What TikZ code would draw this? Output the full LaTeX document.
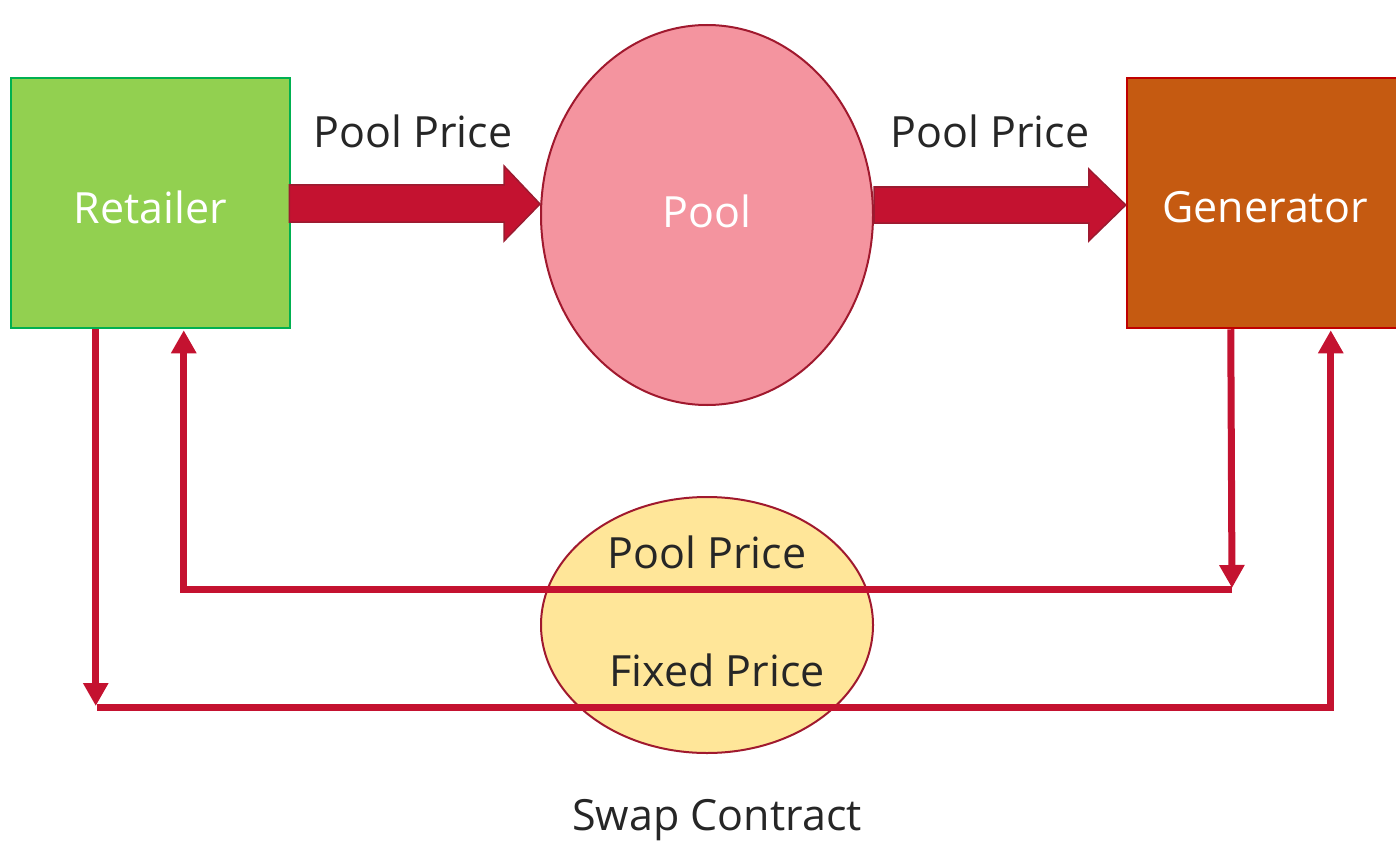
\documentclass[tikz,border=0pt]{standalone}
\usepackage{fontspec}
\setmainfont{Open Sans}
\usetikzlibrary{calc,shapes.geometric,arrows.meta}
\definecolor{linered}{HTML}{C41230}
\definecolor{arrowborder}{HTML}{9B1B30}
\definecolor{pinkfill}{HTML}{F4949F}
\definecolor{ellborder}{HTML}{A0192E}
\definecolor{yellowfill}{HTML}{FFE699}
\definecolor{greenfill}{HTML}{92D050}
\definecolor{greenborder}{HTML}{00B050}
\definecolor{orangefill}{HTML}{C55A11}
\definecolor{orangeborder}{HTML}{C00000}
\definecolor{textdark}{HTML}{262626}
\tikzset{
  boxnode/.style={rectangle, line width=2.5pt, inner sep=0pt},
  ellnode/.style={ellipse, line width=2pt, draw=ellborder, inner sep=0pt},
  whitelbl/.style={text=white, font=\fontsize{43}{50}\selectfont, inner sep=0pt},
  lbl/.style={text=textdark, font=\fontsize{43}{50}\selectfont, inner sep=0pt},
  blockarrow/.style={fill=linered, draw=arrowborder, line width=1.5pt, line join=miter},
  thin/.style={draw=linered, line width=7pt},
  thinarrow/.style={thin, -{Triangle[length=23pt,width=24pt]}},
}
\begin{document}
\begin{tikzpicture}[x=1pt,y=-1pt]
\useasboundingbox (0,0) rectangle (1396,845);
% boxes
\node[boxnode, fill=greenfill, draw=greenborder, minimum width=279pt, minimum height=250pt] (retailer) at (150.5,203) {};
\node[whitelbl] (retailerlbl) at ($(retailer.center)+(0,4)$) {Retailer};
\node[boxnode, fill=orangefill, draw=orangeborder, minimum width=272pt, minimum height=250pt] (generator) at (1263,203) {};
\node[whitelbl] (generatorlbl) at (1265,207) {Generator};
% ellipses
\node[ellnode, fill=pinkfill, minimum width=332pt, minimum height=380pt] (pool) at (707,215) {};
\node[whitelbl] (poollbl) at (707,211) {Pool};
\node[ellnode, fill=yellowfill, minimum width=332pt, minimum height=256pt] (swap) at (707,625) {};
% labels
\node[lbl] (pp1) at (413,131) {Pool Price};
\node[lbl] (pp2) at (990,131) {Pool Price};
\node[lbl] (pp3) at (707,552) {Pool Price};
\node[lbl] (fp) at (717,670) {Fixed Price};
\node[lbl] (sc) at (717,820) {Swap Contract};
% block arrows
\coordinate (S1) at (retailer.east);
\coordinate (T1) at (pool.west |- retailer.east);
\draw[blockarrow] ($(S1)+(-2,-18)$) -- ($(T1)+(-36,-18)$) -- ($(T1)+(-36,-37)$) -- ($(T1)+(0,1)$) -- ($(T1)+(-36,38)$) -- ($(T1)+(-36,19)$) -- ($(S1)+(-2,19)$) -- cycle;
\coordinate (S2) at ($(pool.east |- generator.west)+(0,2)$);
\coordinate (T2) at ($(generator.west)+(0,2)$);
\draw[blockarrow] ($(S2)+(0,-18)$) -- ($(T2)+(-37,-18)$) -- ($(T2)+(-37,-36)$) -- (T2) -- ($(T2)+(-37,36)$) -- ($(T2)+(-37,18)$) -- ($(S2)+(0,18)$) -- cycle;
% thin connectors
\coordinate (rA) at ($(retailer.south west)+(86,0)$);
\coordinate (rB) at ($(retailer.south west)+(174,1)$);
\coordinate (gA) at ($(generator.south west)+(105,0)$);
\coordinate (gB) at ($(generator.south west)+(205,1)$);
\coordinate (lowL) at (97,707);
\coordinate (midR) at (1232,589);
\draw[thinarrow] (rA) -- ($(rA |- lowL)+(0,-1)$);
\draw[thinarrow] (lowL) -| (gB);
\draw[thinarrow] (gA) -- ($(midR)+(0,-1)$);
\draw[thinarrow] (midR) -| (rB);
\end{tikzpicture}
\end{document}
